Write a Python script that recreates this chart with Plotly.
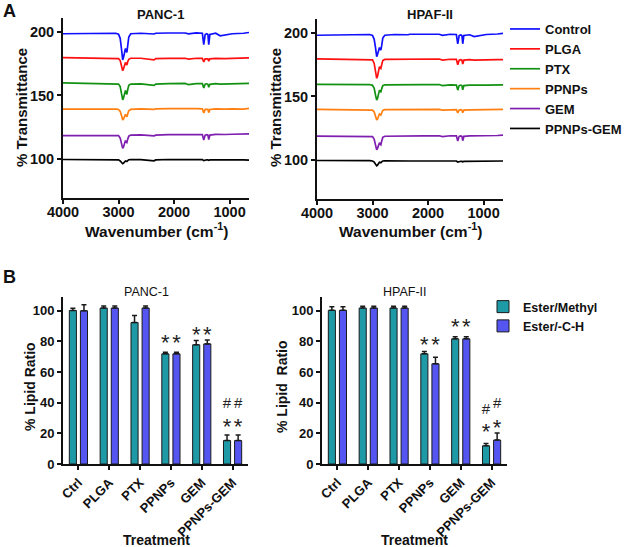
import plotly.graph_objects as go

W, H = 625, 547
FONT = "Arial, Liberation Sans, sans-serif"

# ---------------- data: FTIR spectra ----------------
wavenumber = [4000, 3600, 3200, 3050, 3000, 2970, 2945, 2925, 2910, 2890, 2875, 2860, 2850, 2835,
              2815, 2780, 2600, 2360, 2330, 2100, 1800, 1740, 1600, 1490, 1465, 1440, 1410, 1390,
              1375, 1355, 1250, 1170, 1080, 950, 750, 650]

sample_names = ["Control", "PLGA", "PTX", "PPNPs", "GEM", "PPNPs-GEM"]
line_colors = ["#1010ff", "#ff1010", "#139113", "#ff7f10", "#7f1fb0", "#000000"]

panc_control = [198.6, 198.8, 199.0, 199.0, 198.2, 195, 186, 178, 180, 186, 187, 185, 184, 189,
                196, 198.6, 199, 198.4, 199, 199.2, 199.2, 198.5, 199.3, 199, 190, 198, 198.6, 198,
                190, 198, 199, 197, 197.5, 198.6, 199, 199.6]
panc_plga = [179.8, 179.6, 179.5, 179.5, 179, 177.5, 173, 169.5, 171, 175, 176, 174.5, 174, 176.5,
             178.5, 179.3, 179.3, 178, 179, 179.2, 179.3, 178.6, 179.3, 179.2, 176.5, 178.8, 179, 178.8,
             177, 178.8, 179.2, 179, 179, 179.2, 179.4, 179.6]
panc_ptx = [160, 159.8, 159.5, 159.4, 159, 157, 151, 146.5, 148, 153, 154, 151.5, 151, 154.5,
            158, 159, 159.2, 158, 159, 159.3, 159.5, 158.5, 159.4, 159.3, 156, 158.8, 159.2, 158.8,
            156.5, 158.8, 159.3, 159, 159.2, 159.3, 159.4, 159.6]
panc_ppnps = [139.3, 139.5, 139.3, 139.3, 139, 137.5, 134, 130.7, 131.5, 134.5, 135.2, 133.8, 133.3, 135.5,
              138, 139, 139.4, 139, 139.4, 139.6, 139.8, 139.4, 139.6, 139.4, 136.2, 139, 139.3, 139,
              136.5, 139, 139.4, 139.2, 139.3, 139.5, 139.2, 139.8]
panc_gem = [118.4, 118.6, 118.8, 118.9, 118.5, 116.5, 112, 108.4, 109.5, 113.5, 114.5, 113.3, 113, 115.5,
            118, 118.8, 119, 118.2, 118.8, 119.2, 119.3, 118.8, 119.4, 119.3, 115, 118.8, 119.2, 118.8,
            115.3, 118.8, 119.4, 119.2, 119.3, 119.5, 119.6, 119.8]
panc_ppnps_gem = [99.6, 99.7, 99.6, 99.6, 99.3, 98.5, 97.2, 96.3, 96.8, 98, 98.5, 98.2, 98, 98.8,
                  99.4, 99.6, 99.5, 98.6, 99.3, 99.6, 99.8, 99.4, 99.6, 99.5, 98.7, 99.3, 99.4, 99.3,
                  98.9, 99.3, 99.4, 99.3, 99.2, 99.4, 99.3, 99.1]

hpaf_control = [198.2, 198.5, 198.8, 198.8, 198, 195, 188, 181.3, 183, 187.5, 188.5, 187, 186.6, 190,
                196, 198.2, 198.8, 198.6, 199, 199, 199, 198.2, 199, 198.8, 191.5, 198, 198.5, 198,
                191.5, 198, 198.6, 197.2, 198, 198.8, 199.2, 199.7]
hpaf_plga = [179.6, 179.5, 179.4, 179.4, 178.8, 176, 169, 164.3, 166, 172.5, 173.5, 172.3, 172, 175,
             178.3, 179.2, 179.3, 179, 179.3, 179.4, 179.5, 178.6, 179.3, 179.2, 175, 178.6, 179, 178.6,
             175.5, 178.6, 179, 178.6, 178.8, 179, 179, 179]
hpaf_ptx = [159.6, 159.6, 159.4, 159.4, 158.8, 156.5, 151, 147.2, 148.5, 154, 155, 154, 153.7, 156,
            158.5, 159.2, 159.2, 158.8, 159.2, 159.3, 159.4, 158.6, 159.2, 159, 155, 158.6, 159, 158.6,
            155.3, 158.6, 159, 158.8, 158.9, 159, 159, 159.2]
hpaf_ppnps = [139.8, 139.8, 139.7, 139.7, 139.3, 137.8, 134.5, 131.5, 132.3, 135.6, 136.2, 135.6, 135.4, 137,
              139, 139.6, 139.7, 139.5, 139.7, 139.7, 139.8, 139.3, 139.7, 139.6, 137, 139.3, 139.6, 139.3,
              137.2, 139.3, 139.5, 139.5, 139.5, 139.6, 139.6, 139.8]
hpaf_gem = [118.8, 118.8, 118.9, 118.9, 118.4, 116.3, 111.5, 108, 109.2, 112.8, 113.6, 112.4, 112, 114.8,
            117.8, 118.7, 118.9, 118.6, 118.9, 119, 119.1, 118.4, 119.1, 119, 115, 118.6, 118.9, 118.6,
            115.2, 118.6, 119, 119, 119.1, 119.2, 119.3, 119.6]
hpaf_ppnps_gem = [99.6, 99.7, 99.5, 99.5, 99.2, 98.3, 96.6, 95.5, 96, 97.6, 98.2, 98, 97.8, 98.6,
                  99.2, 99.4, 99.2, 98.8, 99.2, 99.2, 99.3, 99, 99.3, 99.2, 98.4, 98.9, 99, 98.9,
                  98.6, 98.9, 99, 99, 99, 99.1, 99.2, 99.2]

# ---------------- data: lipid ratio bars ----------------
treatments = ["Ctrl", "PLGA", "PTX", "PPNPs", "GEM", "PPNPs-GEM"]
panc_ester_methyl = [100.2, 101.8, 92.3, 71.9, 77.8, 15.3]
panc_ester_methyl_err = [1.5, 1.3, 4.7, 1.1, 2.8, 3.7]
panc_ester_ch = [100.0, 101.8, 101.8, 71.9, 78.4, 15.3]
panc_ester_ch_err = [4.0, 1.3, 1.3, 1.1, 2.6, 3.7]
hpaf_ester_methyl = [100.3, 101.8, 101.8, 71.9, 81.7, 11.9]
hpaf_ester_methyl_err = [2.4, 1.1, 1.1, 1.5, 1.4, 1.5]
hpaf_ester_ch = [100.3, 101.8, 101.8, 65.4, 81.7, 15.6]
hpaf_ester_ch_err = [2.4, 1.1, 1.1, 4.3, 1.4, 4.7]

# significance marks: treatment index, series (0 = Ester/Methyl, 1 = Ester/-C-H), label, y value
panc_marks_idx = [3, 3, 4, 4, 5, 5, 5, 5]
panc_marks_series = [0, 1, 0, 1, 0, 1, 0, 1]
panc_marks_text = ["*", "*", "*", "*", "*", "*", "#", "#"]
panc_marks_y = [81.7, 81.7, 86.5, 86.5, 27, 27, 39, 39]
hpaf_marks_idx = [3, 3, 4, 4, 5, 5, 5, 5]
hpaf_marks_series = [0, 1, 0, 1, 0, 1, 0, 1]
hpaf_marks_text = ["*", "*", "*", "*", "*", "*", "#", "#"]
hpaf_marks_y = [80, 80, 91.8, 91.8, 23.2, 26.4, 35, 38.7]

# ---------------- styling ----------------
TEAL = "#1d9aa6"
BLUE = "#5555f2"
BAR_OFFSET = 0.18
BAR_WIDTH = 0.23
STAR_SHIFT = {"*": -3.6, "#": 0.0}


def px_x(p):
    return p / W


def px_y(p):
    return 1 - p / H


fig = go.Figure()

panc_spectra = [panc_control, panc_plga, panc_ptx, panc_ppnps, panc_gem, panc_ppnps_gem]
hpaf_spectra = [hpaf_control, hpaf_plga, hpaf_ptx, hpaf_ppnps, hpaf_gem, hpaf_ppnps_gem]

for k, (name, col) in enumerate(zip(sample_names, line_colors)):
    fig.add_trace(go.Scatter(x=wavenumber, y=panc_spectra[k], mode="lines", name=name,
                             line=dict(color=col, width=1.7), xaxis="x", yaxis="y",
                             legend="legend", showlegend=True))
    fig.add_trace(go.Scatter(x=wavenumber, y=hpaf_spectra[k], mode="lines", name=name,
                             line=dict(color=col, width=1.7), xaxis="x2", yaxis="y2",
                             showlegend=False))

idx = list(range(len(treatments)))


def add_bars(xa, ya, v1, e1, v2, e2, show):
    fig.add_trace(go.Bar(x=[i - BAR_OFFSET for i in idx], y=v1, width=BAR_WIDTH, name="Ester/Methyl",
                         marker=dict(color=TEAL, line=dict(color="#1a1a1a", width=1)),
                         error_y=dict(type="data", array=e1, arrayminus=[0] * len(e1), symmetric=False,
                                      color="#1a1a1a", thickness=1.5, width=2.5),
                         xaxis=xa, yaxis=ya, legend="legend2", showlegend=show))
    fig.add_trace(go.Bar(x=[i + BAR_OFFSET for i in idx], y=v2, width=BAR_WIDTH, name="Ester/-C-H",
                         marker=dict(color=BLUE, line=dict(color="#1a1a1a", width=1)),
                         error_y=dict(type="data", array=e2, arrayminus=[0] * len(e2), symmetric=False,
                                      color="#1a1a1a", thickness=1.5, width=2.5),
                         xaxis=xa, yaxis=ya, legend="legend2", showlegend=show))


add_bars("x3", "y3", panc_ester_methyl, panc_ester_methyl_err, panc_ester_ch, panc_ester_ch_err, True)
add_bars("x4", "y4", hpaf_ester_methyl, hpaf_ester_methyl_err, hpaf_ester_ch, hpaf_ester_ch_err, False)


def add_marks(xa, ya, mi, ms, mt, my):
    xs = [i + (BAR_OFFSET if s == 1 else -BAR_OFFSET) for i, s in zip(mi, ms)]
    for sym, size in (("*", 22), ("#", 15)):
        sel = [j for j, t in enumerate(mt) if t == sym]
        fig.add_trace(go.Scatter(x=[xs[j] for j in sel], y=[my[j] + STAR_SHIFT[sym] for j in sel],
                                 mode="text", text=[sym] * len(sel), textposition="middle center",
                                 textfont=dict(family=FONT, size=size, color="#222"),
                                 xaxis=xa, yaxis=ya, showlegend=False, hoverinfo="skip"))


add_marks("x3", "y3", panc_marks_idx, panc_marks_series, panc_marks_text, panc_marks_y)
add_marks("x4", "y4", hpaf_marks_idx, hpaf_marks_series, hpaf_marks_text, hpaf_marks_y)

axis_common = dict(showline=True, linecolor="#111", linewidth=2, ticks="outside", ticklen=4,
                   tickwidth=2, tickcolor="#111", showgrid=False, zeroline=False, automargin=False,
                   tickfont=dict(family=FONT, size=14.5, color="#111", weight="bold"))
bar_axis = dict(axis_common)
bar_axis["tickfont"] = dict(family=FONT, size=13, color="#111", weight="bold")
bar_axis["linewidth"] = 1.8

fig.update_layout(
    width=W, height=H, margin=dict(l=0, r=0, t=0, b=0, autoexpand=False),
    paper_bgcolor="white", plot_bgcolor="white",
    font=dict(family=FONT, color="#111"),
    barmode="overlay",
    xaxis=dict(axis_common, domain=[px_x(63), px_x(249)], range=[4000, 650],
               tickvals=[4000, 3000, 2000, 1000], anchor="y", ticklabelstandoff=-4),
    yaxis=dict(axis_common, domain=[px_y(198), px_y(18)], range=[69.3, 211],
               tickvals=[100, 150, 200], anchor="x"),
    xaxis2=dict(axis_common, domain=[px_x(317), px_x(503)], range=[4000, 650],
                tickvals=[4000, 3000, 2000, 1000], anchor="y2", ticklabelstandoff=-4),
    yaxis2=dict(axis_common, domain=[px_y(199), px_y(19)], range=[69.3, 211],
                tickvals=[100, 150, 200], anchor="x2"),
    xaxis3=dict(bar_axis, domain=[px_x(63), px_x(248)], range=[-0.5, 5.5],
                tickvals=idx, ticktext=treatments, tickangle=-45, anchor="y3"),
    yaxis3=dict(bar_axis, domain=[px_y(464), px_y(297)], range=[0, 109],
                tickvals=[0, 20, 40, 60, 80, 100], anchor="x3"),
    xaxis4=dict(bar_axis, domain=[px_x(322), px_x(507)], range=[-0.5, 5.5],
                tickvals=idx, ticktext=treatments, tickangle=-45, anchor="y4"),
    yaxis4=dict(bar_axis, domain=[px_y(464), px_y(297)], range=[0, 109],
                tickvals=[0, 20, 40, 60, 80, 100], anchor="x4"),
    legend=dict(x=px_x(505), y=px_y(14), xanchor="left", yanchor="top",
                font=dict(family=FONT, size=13, color="#111", weight="bold"),
                bgcolor="rgba(0,0,0,0)", borderwidth=0, itemclick=False),
    legend2=dict(x=px_x(483), y=px_y(292), xanchor="left", yanchor="top",
                 font=dict(family=FONT, size=12.5, color="#111", weight="bold"),
                 bgcolor="rgba(0,0,0,0)", borderwidth=0),
)


def ann(text, x, y, size, bold=True, angle=0, xanchor="center", yanchor="middle"):
    fig.add_annotation(text=text, x=px_x(x), y=px_y(y), xref="paper", yref="paper",
                       showarrow=False, textangle=angle, xanchor=xanchor, yanchor=yanchor,
                       font=dict(family=FONT, size=size, color="#111",
                                 weight="bold" if bold else "normal"))


ann("A", 1, 11, 18, xanchor="left")
ann("B", 1, 277, 18, xanchor="left")
ann("PANC-1", 160, 15, 13)
ann("HPAF-II", 430, 15, 13)
ann("% Transmittance", 22, 108, 15, angle=-90)
ann("% Transmittance", 276, 108, 15, angle=-90)
ann("Wavenumber (cm<sup>-1</sup>)", 156, 230, 15.5)
ann("Wavenumber (cm<sup>-1</sup>)", 410, 230, 15.5)
ann("PANC-1", 146, 292, 12.5, bold=False)
ann("HPAF-II", 405, 292, 12.5, bold=False)
ann("% Lipid Ratio", 30, 387, 14, angle=-90)
ann("% Lipid  Ratio", 282, 387, 14, angle=-90)
ann("Treatment", 156, 540, 14)
ann("Treatment", 414, 540, 14)

fig.write_html("out.html", config={"displayModeBar": False},
               post_script="document.body.style.margin='0px';")
